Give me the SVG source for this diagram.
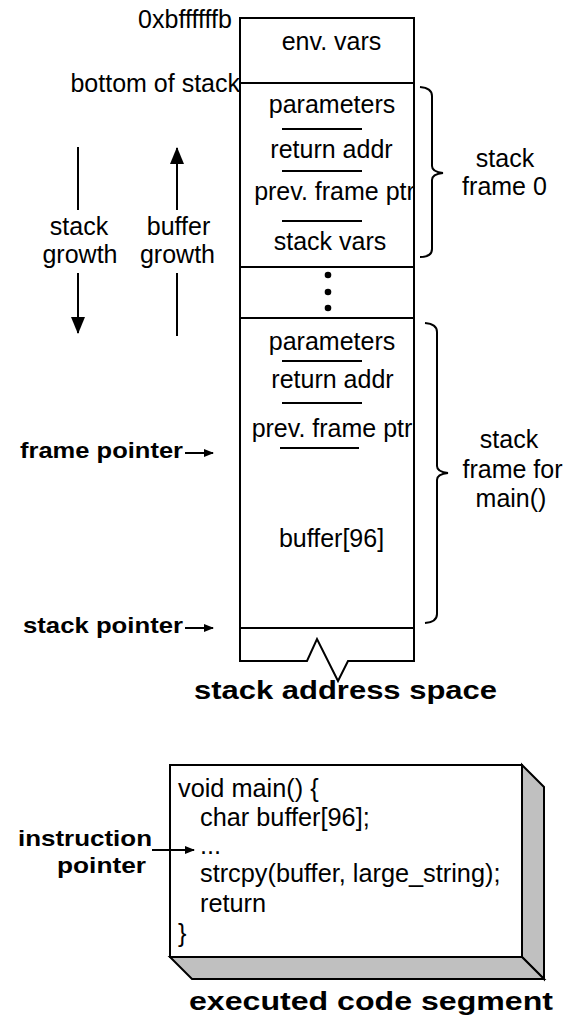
<svg xmlns="http://www.w3.org/2000/svg" width="570" height="1018" viewBox="0 0 570 1018">
<style>
text{font-family:"Liberation Sans",Arial,sans-serif;fill:#000}
.t{font-size:25px}
.k{font-size:25.3px}
.c{text-anchor:middle}
.e{text-anchor:end}
.b{font-size:22px;font-weight:bold}
.h{font-size:25px;font-weight:bold}
.ln{stroke:#000;stroke-width:2;fill:none}
.face{fill:#c0c0c0;stroke:#000;stroke-width:2;stroke-linejoin:miter}
</style>
<defs>
<marker id="ah" markerUnits="userSpaceOnUse" markerWidth="10" markerHeight="8" refX="9" refY="4" orient="auto"><path d="M0,0L10,4L0,8z" fill="#000"/></marker>
<marker id="ahL" markerUnits="userSpaceOnUse" markerWidth="17" markerHeight="14" refX="16" refY="7" orient="auto"><path d="M0,0L17,7L0,14z" fill="#000"/></marker>
</defs>
<rect width="570" height="1018" fill="#fff"/>

<g id="stack">
<path class="ln" d="M240,661 L240,18 L414,18 L414,661 L348,661 L338,681 L317,639 L307,661 Z" fill="#fff"/>
<line class="ln" x1="240" y1="83" x2="414" y2="83"/>
<line class="ln" x1="240" y1="267" x2="414" y2="267"/>
<line class="ln" x1="240" y1="318" x2="414" y2="318"/>
<line class="ln" x1="240" y1="628" x2="414" y2="628"/>
<text class="t c" x="331.5" y="50">env. vars</text>
<g id="frame0-slots">
<text class="t c" x="332" y="113">parameters</text>
<line class="ln" x1="282" y1="129" x2="362" y2="129"/>
<text class="t c" x="331.5" y="158">return addr</text>
<line class="ln" x1="282" y1="171" x2="362" y2="171"/>
<text class="t c" x="334.5" y="200">prev. frame ptr</text>
<line class="ln" x1="282" y1="221" x2="362" y2="221"/>
<text class="t c" x="330" y="250">stack vars</text>
</g>
<g id="dots">
<circle cx="328" cy="275" r="3.3"/>
<circle cx="328" cy="292" r="3.3"/>
<circle cx="328" cy="308" r="3.3"/>
</g>
<g id="main-slots">
<text class="t c" x="332" y="350">parameters</text>
<line class="ln" x1="282" y1="361" x2="362" y2="361"/>
<text class="t c" x="332.5" y="388">return addr</text>
<line class="ln" x1="282" y1="403" x2="362" y2="403"/>
<text class="t c" x="332" y="437">prev. frame ptr</text>
<line class="ln" x1="280" y1="448" x2="359" y2="448"/>
<text class="t c" x="331.5" y="547">buffer[96]</text>
</g>
</g>

<g id="top-labels">
<text class="t e" x="232" y="28" textLength="94">0xbffffffb</text>
<text class="t e" x="240" y="92">bottom of stack</text>
</g>

<g id="stack-growth">
<text class="t c" x="79" y="235">stack</text>
<text class="t c" x="80" y="263">growth</text>
</g>
<g id="buffer-growth">
<text class="t c" x="178.5" y="235">buffer</text>
<text class="t c" x="177.5" y="263">growth</text>
</g>

<g id="frame0">
<path class="ln" d="M420,87 Q432,88 432,96 L432,166 Q432,172 443,173 Q432,174 432,180 L432,249 Q432,257 420,257"/>
<text class="t c" x="505" y="167">stack</text>
<text class="t c" x="504.5" y="195">frame 0</text>
</g>

<g id="frame-main">
<path class="ln" d="M425,323 Q437,324 437,332 L437,466 Q437,472 448,473 Q437,474 437,480 L437,614 Q437,622 425,623"/>
<text class="t c" x="509" y="448">stack</text>
<text class="t c" x="512.5" y="478">frame for</text>
<text class="t c" x="511" y="507">main()</text>
</g>

<g id="frame-pointer">
<text class="b" x="20" y="458" textLength="163" lengthAdjust="spacingAndGlyphs">frame pointer</text>
</g>
<g id="stack-pointer">
<text class="b" x="23" y="633" textLength="160" lengthAdjust="spacingAndGlyphs">stack pointer</text>
</g>

<g id="stack-caption">
<text class="h" x="194" y="699" textLength="303" lengthAdjust="spacingAndGlyphs">stack address space</text>
</g>

<g id="code-segment">
<polygon class="face" points="522,765 544,787 544,979 522,957"/>
<polygon class="face" points="170,957 522,957 544,979 192,979"/>
<rect class="ln" x="170" y="765" width="352" height="192" fill="#fff"/>
<text class="k" x="178" y="797">void main() {</text>
<text class="k" x="200" y="826">char buffer[96];</text>
<text class="k" x="200" y="854">...</text>
<text class="k" x="200" y="882">strcpy(buffer, large_string);</text>
<text class="k" x="200" y="912">return</text>
<text class="k" x="178" y="942">}</text>
</g>

<g id="instruction-pointer">
<text class="b" x="18" y="846" textLength="134" lengthAdjust="spacingAndGlyphs">instruction</text>
<text class="b" x="57" y="873" textLength="89" lengthAdjust="spacingAndGlyphs">pointer</text>
</g>

<g id="code-caption">
<text class="h" x="189" y="1010" textLength="364" lengthAdjust="spacingAndGlyphs">executed code segment</text>
</g>

<g id="connectors">
<line class="ln" x1="78" y1="147" x2="78" y2="210"/>
<line class="ln" x1="78" y1="273" x2="78" y2="333" marker-end="url(#ahL)"/>
<line class="ln" x1="177" y1="210" x2="177" y2="148" marker-end="url(#ahL)"/>
<line class="ln" x1="177" y1="273" x2="177" y2="336"/>
<line class="ln" x1="185" y1="453" x2="213" y2="453" marker-end="url(#ah)"/>
<line class="ln" x1="185" y1="628" x2="213" y2="628" marker-end="url(#ah)"/>
<line class="ln" x1="152" y1="850" x2="194" y2="850" marker-end="url(#ah)"/>
</g>
</svg>
